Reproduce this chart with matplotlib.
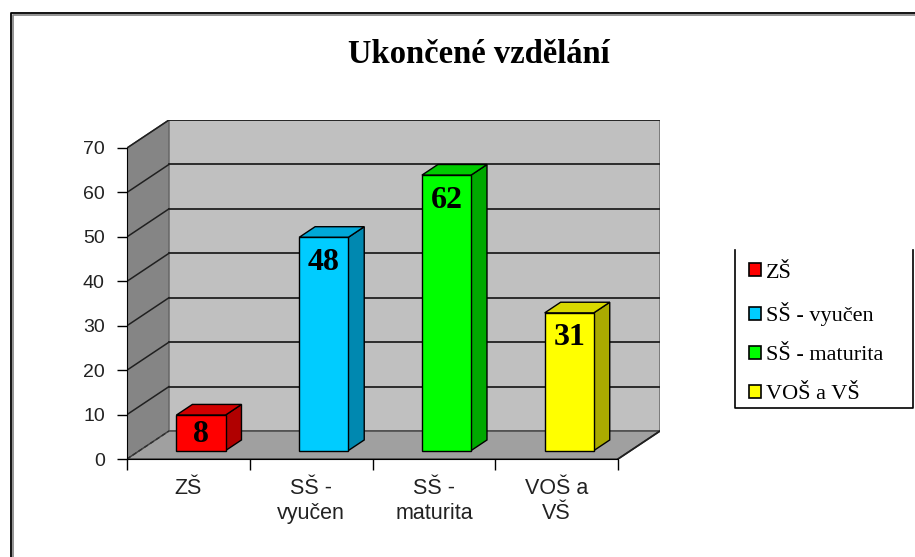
import matplotlib
matplotlib.use("Agg")
import matplotlib.pyplot as plt
from matplotlib.patches import Polygon, Rectangle, Patch
from matplotlib.lines import Line2D

# ---- data ----
categories = ["ZŠ", "SŠ - vyučen", "SŠ - maturita", "VOŠ a VŠ"]
tick_labels = ["ZŠ", "SŠ -\nvyučen", "SŠ -\nmaturita", "VOŠ a\nVŠ"]
values = [8, 48, 62, 31]
front_colors = ["#FF0000", "#00CCFF", "#00FF00", "#FFFF00"]
side_colors = ["#B00000", "#0088B0", "#00A800", "#AAAA00"]
top_colors = ["#D00000", "#00A8D8", "#00CC00", "#D8D800"]
yticks = [0, 10, 20, 30, 40, 50, 60, 70]
title = "Ukončené vzdělání"

# ---- geometry of the fake 3D ----
YMAX = 70
D = 0.342     # depth offset in category units
H = 6.3       # depth offset in value units
BW = 0.4      # bar width
F0, F1 = 0.30, 0.68   # bar depth (front/back fraction)

W, Hpx = 915, 557
fig = plt.figure(figsize=(W / 100, Hpx / 100), dpi=100)
fig.patch.set_facecolor("white")

left_px, right_px, bot_px, top_px = 127, 660, 459, 120
ax = fig.add_axes([left_px / W, 1 - bot_px / Hpx,
                   (right_px - left_px) / W, (bot_px - top_px) / Hpx])
n = len(values)
ax.set_xlim(-0.5, n - 0.5 + D)
ax.set_ylim(0, YMAX + H)
ax.set_facecolor("none")

x0, x1 = -0.5, n - 0.5
# side wall
ax.add_patch(Polygon([(x0, 0), (x0, YMAX), (x0 + D, YMAX + H), (x0 + D, H)],
                     closed=True, facecolor="#858585", edgecolor="#555555", lw=1, zorder=1))
# back wall
ax.add_patch(Rectangle((x0 + D, H), x1 - x0, YMAX, facecolor="#C0C0C0",
                       edgecolor="#707070", lw=1.2, zorder=1))
# floor
ax.add_patch(Polygon([(x0, 0), (x1, 0), (x1 + D, H), (x0 + D, H)],
                     closed=True, facecolor="#A0A0A0", edgecolor="#404040", lw=1, zorder=1))
# gridlines
for v in yticks[1:]:
    ax.plot([x0 + D, x1 + D], [v + H, v + H], color="#202020", lw=1.3, zorder=2)
    ax.plot([x0, x0 + D], [v, v + H], color="#202020", lw=1.1, zorder=2)
ax.plot([x0, x0 + D], [0, H], color="#303030", lw=1, ls=(0, (3, 2)), zorder=2)
ax.plot([x1, x1 + D], [0, H], color="#202020", lw=1.3, zorder=2)

# bars
dd = F1 - F0
for i, (v, fc, sc, tc) in enumerate(zip(values, front_colors, side_colors, top_colors)):
    bx = i - BW / 2 + F0 * D
    by = F0 * H
    ax.add_patch(Polygon([(bx + BW, by), (bx + BW, by + v),
                          (bx + BW + dd * D, by + v + dd * H), (bx + BW + dd * D, by + dd * H)],
                         closed=True, facecolor=sc, edgecolor="black", lw=1, zorder=3))
    ax.add_patch(Polygon([(bx, by + v), (bx + BW, by + v),
                          (bx + BW + dd * D, by + v + dd * H), (bx + dd * D, by + v + dd * H)],
                         closed=True, facecolor=tc, edgecolor="black", lw=1, zorder=3))
    ax.bar(bx, v, width=BW, bottom=by, align="edge", color=fc,
           edgecolor="black", lw=1, zorder=4)
    off = min(5.6, v * 0.55)
    ax.text(bx + BW / 2, by + v - off, str(v), ha="center", va="center",
            fontsize=23, fontweight="bold", family="Liberation Serif", zorder=5)

# axes spines / ticks
for s in ["top", "right"]:
    ax.spines[s].set_visible(False)
ax.spines["left"].set_bounds(0, YMAX)
ax.spines["bottom"].set_bounds(x0, x1)
ax.spines["left"].set_zorder(6)
ax.spines["bottom"].set_zorder(6)
ax.set_yticks(yticks)
ax.set_yticklabels([str(t) for t in yticks], family="Liberation Sans", fontsize=14, color="#222222")
ax.tick_params(axis="y", length=7, width=1, pad=9, direction="out")
ax.set_xticks([x0 + k for k in range(n + 1)])
ax.set_xticklabels([""] * (n + 1))
ax.set_xticks(list(range(n)), minor=True)
ax.set_xticklabels(tick_labels, minor=True, family="Liberation Sans", fontsize=15.5, color="#222222")
ax.tick_params(axis="x", which="major", length=8, width=1, direction="out")
ax.tick_params(axis="x", which="minor", length=0, pad=14)

# title
fig.text(479 / W, 1 - 63 / Hpx, title, ha="center", va="baseline",
         fontsize=23.5, fontweight="bold", family="Liberation Serif")

# legend
handles = [Patch(facecolor=c, edgecolor="black", lw=1.2) for c in front_colors]
leg = fig.legend(handles, categories, loc="upper left",
                 bbox_to_anchor=(749 / W, 1 - 263 / Hpx), frameon=False,
                 prop={"family": "Liberation Serif", "size": 16},
                 handlelength=0.55, handleheight=0.55, handletextpad=0.22,
                 labelspacing=0.88, borderaxespad=0, borderpad=0)
# legend box (left, bottom, right edges)
lx0, lx1, ly0, ly1 = 735, 913, 250, 408
fig.add_artist(Line2D([lx0 / W, lx0 / W, lx1 / W, lx1 / W],
                      [1 - ly0 / Hpx, 1 - ly1 / Hpx, 1 - ly1 / Hpx, 1 - ly0 / Hpx],
                      color="black", lw=1.2))

# outer chart border
fig.add_artist(Line2D([10.5 / W, 10.5 / W, 1], [0, 1 - 12.5 / Hpx, 1 - 12.5 / Hpx],
                      color="black", lw=1.3))
fig.add_artist(Line2D([13 / W, 13 / W, 1], [0, 1 - 14.5 / Hpx, 1 - 14.5 / Hpx],
                      color="#808080", lw=1.2))

fig.savefig("out.png", dpi=100, facecolor="white")
